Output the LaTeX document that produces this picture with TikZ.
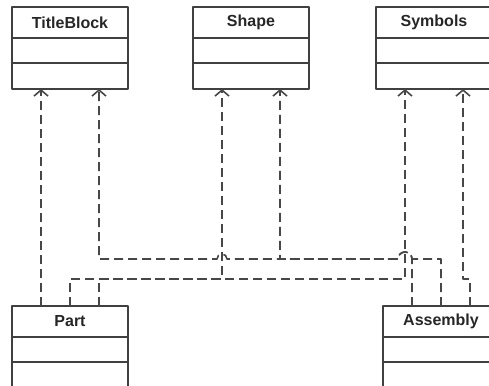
\documentclass[tikz,border=0pt]{standalone}
\usepackage{fontspec}
\setmainfont{Liberation Sans}
\usetikzlibrary{positioning,arrows.meta}
\begin{document}
\begin{tikzpicture}[line join = round, x = 1pt, y = -1pt,
	hdr/.style = {draw = black!75, line width = 1.6pt, text = black!85, minimum width = 116pt, minimum height = 31pt, inner sep = 0pt, outer sep = 0pt, font = \fontsize{16}{19}\selectfont\bfseries},
	cmp/.style = {hdr, minimum height = #1},
	dep/.style = {draw = black!72, line width = 1.6pt, dash pattern = on 9pt off 5pt, -{Straight Barb[length = 6pt, width = 14pt]}}]
	%Khung hình
	\def\xmax{489}  \def\ymax{385}
	\def\yhi{259}   \def\ylo{279}
	\clip (0,0) rectangle (\xmax,\ymax);
	%Vẽ các lớp
	\foreach \nm/\lbl/\x/\y in {tb/TitleBlock/70/7, shp/Shape/251/7, sym/Symbols/434/7, part/Part/70/306, asm/Assembly/441/306}{
		\node[hdr, anchor = north] (\nm) at (\x,\y) {\lbl};
		\node[cmp = 25pt, below = 0pt of \nm] (\nm-a) {};
		\node[cmp = 26pt, below = 0pt of \nm-a] (\nm-b) {};
	}
	%Vẽ các đường phụ thuộc
	\draw[dep] ([xshift = -29pt]part.north) -- ([xshift = -29pt]tb-b.south);
	\draw[dep] (part.north) -- (part.north |- 0,\ylo) -| ([xshift = -29pt]sym-b.south);
	\draw[dep] ([xshift = 29pt]part.north) -- ([xshift = 29pt]part.north |- 0,\ylo) -| ([xshift = -29pt]shp-b.south);
	\draw[dep] ([xshift = -29pt]asm.north) -- ([xshift = -29pt]asm.north |- 0,\yhi)
		arc[start angle = 0, end angle = 180, radius = 7pt] -| ([xshift = 29pt]shp-b.south);
	\draw[dep] (asm.north) -- (asm.north |- 0,\yhi) -- ([xshift = -22pt]sym-b.south |- 0,\yhi)
		arc[start angle = 0, end angle = 180, radius = 7pt] -- ([xshift = -24pt]shp-b.south |- 0,\yhi)
		arc[start angle = 0, end angle = 180, radius = 5pt] -| ([xshift = 29pt]tb-b.south);
	\draw[dep] ([xshift = 29pt]asm.north) -- ([xshift = 29pt]asm.north |- 0,\ylo) -| ([xshift = 29pt]sym-b.south);
\end{tikzpicture}
\end{document}
